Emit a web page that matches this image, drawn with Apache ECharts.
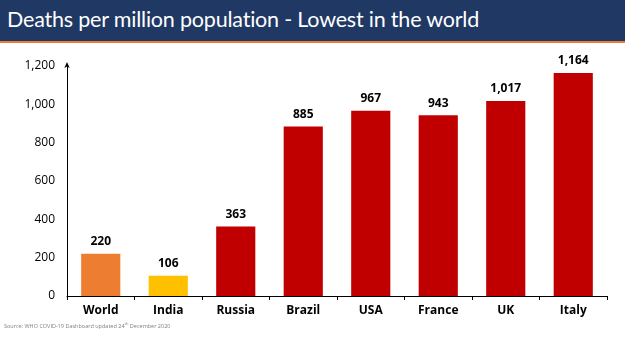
<!DOCTYPE html>
<html><head><meta charset="utf-8">
<script src="https://cdn.jsdelivr.net/npm/echarts@6/dist/echarts.min.js"></script>
<style>
html,body{margin:0;padding:0;background:#fff;}
#bar{position:absolute;left:0;top:0;width:625px;height:41px;background:#1F3864;border-bottom:2px solid #ED7D31;}
#title{position:absolute;left:7px;top:6px;line-height:26px;color:#fff;font-family:Lato,'Open Sans',sans-serif;font-size:21.5px;letter-spacing:-0.2px;white-space:nowrap;}
#chart{position:absolute;left:0;top:0;width:625px;height:351px;}
#src{position:absolute;left:4px;top:321px;font-family:'Open Sans',sans-serif;font-size:5.5px;color:#808080;}
</style></head>
<body>
<div id="bar"><div id="title">Deaths per million population - Lowest in the world</div></div>
<div id="chart"></div>
<div id="src">Source: WHO COVID-19 Dashboard updated 24<sup style="font-size:4px">th</sup> December 2020</div>
<script>
const categories = ['World','India','Russia','Brazil','USA','France','UK','Italy'];
const values = [220,106,363,885,967,943,1017,1164];
const barColors = ['#ED7D31','#FFC000','#C00000','#C00000','#C00000','#C00000','#C00000','#C00000'];
const yTicks = [0,200,400,600,800,1000,1200];

const chart = echarts.init(document.getElementById('chart'));
chart.setOption({
  animation:false,
  grid:{left:67,right:18,top:66,bottom:55},
  xAxis:{type:'category',data:categories,
    axisLine:{lineStyle:{color:'#000'}},
    axisTick:{show:true,lineStyle:{color:'#000'},length:4},
    axisLabel:{color:'#000',fontWeight:'bold',fontSize:12,fontFamily:'Open Sans, sans-serif',margin:9}},
  yAxis:{type:'value',min:yTicks[0],max:yTicks[yTicks.length-1],interval:200,
    axisLine:{show:true,lineStyle:{color:'#000'},symbol:['none','arrow'],symbolSize:[4,6],symbolOffset:[0,4]},
    axisTick:{show:false},
    splitLine:{show:false},
    axisLabel:{color:'#000',fontSize:12,fontFamily:'Open Sans, sans-serif',margin:12,
      formatter:v=>v.toLocaleString('en-US')}},
  series:[{type:'bar',barWidth:'58%',
    data:values.map((v,i)=>({value:v,itemStyle:{color:barColors[i]}})),
    label:{show:true,position:'top',fontWeight:'bold',fontSize:12,color:'#000',fontFamily:'Open Sans, sans-serif',distance:6,
      formatter:p=>p.value.toLocaleString('en-US')}}]
});
</script>
</body></html>
